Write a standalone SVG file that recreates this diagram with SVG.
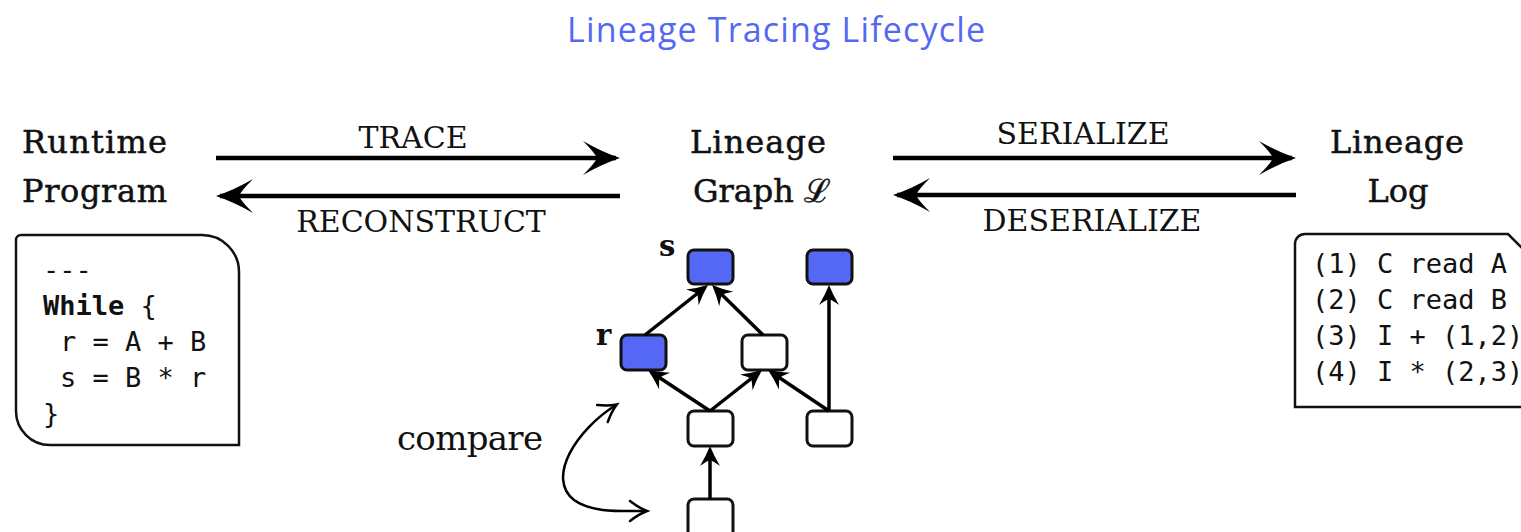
<svg xmlns="http://www.w3.org/2000/svg" width="1521" height="532" viewBox="0 0 1521 532">
  <style>
    .title { font-family: "Open Sans", "Noto Sans", sans-serif; font-size: 34px; fill: #5568f2; }
    .head { font-family: "DejaVu Serif", "Liberation Serif", serif; font-size: 32px; fill: #111; stroke: #111; stroke-width: 0.5; }
    .lbl { font-family: "DejaVu Serif", "Liberation Serif", serif; font-size: 30px; fill: #111; }
    .cmpl { font-family: "DejaVu Serif", "Liberation Serif", serif; font-size: 34px; fill: #111; }
    .tag { font-family: "DejaVu Serif", "Liberation Serif", serif; font-size: 29px; font-weight: bold; fill: #111; }
    .code { font-family: "DejaVu Sans Mono", "Liberation Mono", monospace; font-size: 27px; fill: #111; white-space: pre; }
    .box { fill: #fff; stroke: #111; stroke-width: 2.5; }
    .node { stroke: #111; stroke-width: 3; }
    .blue { fill: #5468f5; }
    .white { fill: #fff; }
    .big { stroke: #000; stroke-width: 4.5; fill: none; marker-end: url(#bigHead); }
    .edge { stroke: #000; stroke-width: 3.5; fill: none; marker-end: url(#smallHead); }
    .cmp { stroke: #000; stroke-width: 2.5; fill: none; marker-start: url(#chev); marker-end: url(#chev); }
  </style>
  <defs>
    <marker id="bigHead" markerUnits="userSpaceOnUse" viewBox="-36 -19 42 38" markerWidth="42" markerHeight="38" refX="0" refY="0" orient="auto" overflow="visible">
      <path d="M4,0 Q-14,-6 -33,-17 Q-21,-5 -19,0 Q-21,5 -33,17 Q-14,6 4,0 Z" fill="#000"/>
    </marker>
    <marker id="smallHead" markerUnits="userSpaceOnUse" viewBox="-20 -12 26 24" markerWidth="26" markerHeight="24" refX="0" refY="0" orient="auto" overflow="visible">
      <path d="M4,0 Q-6,-4 -16,-10 Q-11,-3 -10,0 Q-11,3 -16,10 Q-6,4 4,0 Z" fill="#000"/>
    </marker>
    <marker id="chev" markerUnits="userSpaceOnUse" viewBox="-20 -12 24 24" markerWidth="24" markerHeight="24" refX="0" refY="0" orient="auto-start-reverse" overflow="visible">
      <path d="M-16,-10 Q-7,-3 1,0 Q-7,3 -16,10" fill="none" stroke="#000" stroke-width="2.5" stroke-linecap="round"/>
    </marker>
  </defs>

  <rect width="1521" height="532" fill="#fff"/>

  <text class="title" x="567" y="42" textLength="418">Lineage Tracing Lifecycle</text>

  <!-- runtime program -->
  <g id="runtime">
    <text class="head" x="22" y="153" textLength="145">Runtime</text>
    <text class="head" x="22" y="202" textLength="145">Program</text>
    <path class="box" d="M21,235 H202 A37,37 0 0 1 239,272 V445 H50 A34,34 0 0 1 16,411 V240 A5,5 0 0 1 21,235 Z"/>
    <text class="code" x="43" y="279">---</text>
    <text class="code" x="43" y="315"><tspan font-weight="bold">While</tspan> {</text>
    <text class="code" x="60" y="351">r = A + B</text>
    <text class="code" x="60" y="387">s = B * r</text>
    <text class="code" x="43" y="423">}</text>
  </g>

  <!-- lineage graph -->
  <g id="graph">
    <text class="head" x="758" y="153" text-anchor="middle" textLength="136">Lineage</text>
    <text class="head" x="762" y="202" text-anchor="middle">Graph ℒ</text>
    <text class="tag" x="659" y="256">s</text>
    <text class="tag" x="596" y="345">r</text>
  </g>
  <g id="n-s"><rect class="node blue" x="688" y="250" width="45" height="34" rx="6"/></g>
  <g id="n-top"><rect class="node blue" x="807" y="250" width="45" height="34" rx="6"/></g>
  <g id="n-r"><rect class="node blue" x="621" y="335" width="45" height="35" rx="6"/></g>
  <g id="n-mid"><rect class="node white" x="742" y="335" width="45" height="35" rx="6"/></g>
  <g id="n-low"><rect class="node white" x="688" y="411" width="45" height="35" rx="6"/></g>
  <g id="n-right"><rect class="node white" x="807" y="411" width="45" height="35" rx="6"/></g>
  <g id="n-bottom"><rect class="node white" x="688" y="499" width="45" height="40" rx="6"/></g>

  <!-- lineage log -->
  <g id="log">
    <text class="head" x="1397" y="153" text-anchor="middle" textLength="134">Lineage</text>
    <text class="head" x="1398" y="202" text-anchor="middle">Log</text>
    <path class="box" d="M1305,234 H1508 L1532,258 V407 H1295 V244 A10,10 0 0 1 1305,234 Z"/>
    <text class="code" x="1312" y="273">(1) C read A</text>
    <text class="code" x="1312" y="309">(2) C read B</text>
    <text class="code" x="1312" y="345">(3) I + (1,2)</text>
    <text class="code" x="1312" y="381">(4) I * (2,3)</text>
  </g>

  <!-- compare label -->
  <g id="compare">
    <text class="cmpl" x="397" y="450" textLength="146">compare</text>
  </g>

  <!-- connectors -->
  <g id="connectors">
    <line class="big" x1="216" y1="158" x2="616" y2="158"/>
    <line class="big" x1="620" y1="196" x2="220" y2="196"/>
    <line class="big" x1="893" y1="158" x2="1292" y2="158"/>
    <line class="big" x1="1296" y1="195" x2="897" y2="195"/>
    <text class="lbl" x="413" y="148" text-anchor="middle">TRACE</text>
    <text class="lbl" x="421" y="232" text-anchor="middle">RECONSTRUCT</text>
    <text class="lbl" x="1083" y="144" text-anchor="middle">SERIALIZE</text>
    <text class="lbl" x="1092" y="231" text-anchor="middle">DESERIALIZE</text>

    <line class="edge" x1="645" y1="335" x2="704.9" y2="287.5"/>
    <line class="edge" x1="763" y1="335" x2="714.9" y2="287.8"/>
    <line class="edge" x1="829" y1="411" x2="829" y2="289"/>
    <line class="edge" x1="710" y1="411" x2="651.3" y2="372.2"/>
    <line class="edge" x1="710" y1="411" x2="758.9" y2="372.5"/>
    <line class="edge" x1="829" y1="411" x2="771.3" y2="372.2"/>
    <line class="edge" x1="710" y1="499" x2="710" y2="450"/>

    <path class="cmp" d="M616,405 C576,430 546,478 574,500 C592,513 620,511 646,511"/>
  </g>
</svg>
